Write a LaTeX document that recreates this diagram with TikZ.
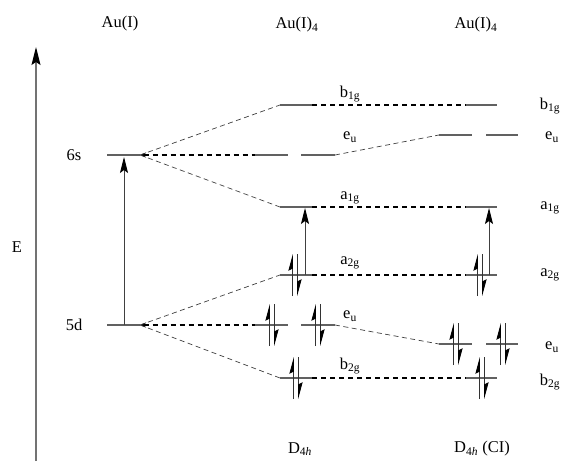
\documentclass[tikz,border=0pt]{standalone}
\usepackage{fontspec}
\setmainfont{Liberation Serif}
\usetikzlibrary{arrows.meta}
\begin{document}
\begin{tikzpicture}[x=1pt,y=-1pt,
  every node/.style={font=\fontsize{16.5}{20}\selectfont, inner sep=0pt},
  level/.style={draw=black!62, line width=1.6pt},
  corr/.style={draw=black, line width=1.7pt, dash pattern=on 5pt off 4pt},
  link/.style={draw=black!75, line width=0.7pt, dash pattern=on 5pt off 3.5pt},
  excite/.style={draw=black!75, line width=0.9pt, -{Stealth[length=16pt,width=8pt,inset=3pt,color=black]}},
  elec/.style={draw=black!80, line width=0.9pt, -{Stealth[harpoon,length=15pt,width=8pt,inset=2pt,color=black]}},
  pair/.pic={
    \draw[elec] (-2.6,21) -- (-2.6,-21);
    \draw[elec] (2.6,-21) -- (2.6,21);
  }]
\useasboundingbox (0,0) rectangle (565,461);

% energy axis
\coordinate (ebot) at (36,461);
\coordinate (etop) at (36,47);
\draw[draw=black!55, line width=1.3pt, -{Stealth[length=18pt,width=9pt,inset=3pt,color=black]}] (ebot) -- (etop);
\node (E) at (17,247) {E};

% column headings
\node (hA) at (120,24) {Au(I)};
\node (hB) at (297,25) {Au(I)\textsubscript{4}};
\node (hC) at (476,25) {Au(I)\textsubscript{4}};
\node (sB) at (300,449) {D\textsubscript{4\textit{h}}};
\node (sC) at (482,449) {D\textsubscript{4\textit{h}} (CI)};

% atomic levels
\coordinate (s6L) at (107,155); \coordinate (f6) at (140,155);
\coordinate (d5L) at (107,325); \coordinate (f5) at (140,325);
\draw[level] (s6L) -- (f6);
\draw[level] (d5L) -- (f5);
\node (l6s) at (74,155) {6s};
\node (l5d) at (74,325) {5d};
\coordinate (x5) at (124,325); \coordinate (x6) at (124,157);
\draw[excite] (x5) -- (x6);

% D4h levels
\coordinate (mb1L) at (280,105); \coordinate (mb1R) at (312,105);
\coordinate (meaL) at (255,155); \coordinate (meaM) at (288,155);
\coordinate (meaN) at (301,155); \coordinate (meaR) at (335,155);
\coordinate (ma1L) at (280,207); \coordinate (ma1R) at (312,207);
\coordinate (ma2L) at (280,275); \coordinate (ma2R) at (312,275);
\coordinate (mebL) at (255,325); \coordinate (mebM) at (288,325);
\coordinate (mebN) at (301,325); \coordinate (mebR) at (335,325);
\coordinate (mb2L) at (280,378); \coordinate (mb2R) at (312,378);
\foreach \a/\b in {mb1L/mb1R, meaL/meaM, meaN/meaR, ma1L/ma1R, ma2L/ma2R,
                   mebL/mebM, mebN/mebR, mb2L/mb2R}
  \draw[level] (\a) -- (\b);

% D4h (CI) levels
\coordinate (rb1L) at (466,105); \coordinate (rb1R) at (497,105);
\coordinate (reaL) at (439,135); \coordinate (reaM) at (472,135);
\coordinate (reaN) at (486,135); \coordinate (reaR) at (518,135);
\coordinate (ra1L) at (466,207); \coordinate (ra1R) at (497,207);
\coordinate (ra2L) at (466,275); \coordinate (ra2R) at (497,275);
\coordinate (rebL) at (439,344); \coordinate (rebM) at (472,344);
\coordinate (rebN) at (486,344); \coordinate (rebR) at (518,344);
\coordinate (rb2L) at (466,378); \coordinate (rb2R) at (497,378);
\foreach \a/\b in {rb1L/rb1R, reaL/reaM, reaN/reaR, ra1L/ra1R, ra2L/ra2R,
                   rebL/rebM, rebN/rebR, rb2L/rb2R}
  \draw[level] (\a) -- (\b);

% thick dashed correlation lines
\draw[corr, {Stealth[length=6pt,width=5pt]}-] (f6) -- (meaL);
\draw[corr, {Stealth[length=6pt,width=5pt]}-] (f5) -- (mebL);
\draw[corr] (mb1R) -- (rb1L);
\draw[corr] (ma1R) -- (ra1L);
\draw[corr] (ma2R) -- (ra2L);
\draw[corr] (mb2R) -- (rb2L);

% thin dashed splitting lines
\draw[link] (f6) -- (mb1L);
\draw[link] (f6) -- (ma1L);
\draw[link] (f5) -- (ma2L);
\draw[link] (f5) -- (mb2L);
\draw[link] (meaR) -- (reaL);
\draw[link] (mebR) -- (rebL);

% labels, D4h column
\node (tb1) at (350,94) {b\textsubscript{1g}};
\node (tea) at (350,137) {e\textsubscript{u}};
\node (ta1) at (350,198) {a\textsubscript{1g}};
\node (ta2) at (350,263) {a\textsubscript{2g}};
\node (teb) at (350,316) {e\textsubscript{u}};
\node (tb2) at (350,366) {b\textsubscript{2g}};
% labels, D4h (CI) column
\node (ub1) at (550,106) {b\textsubscript{1g}};
\node (uea) at (552,137) {e\textsubscript{u}};
\node (ua1) at (550,208) {a\textsubscript{1g}};
\node (ua2) at (550,275) {a\textsubscript{2g}};
\node (ueb) at (552,347) {e\textsubscript{u}};
\node (ub2) at (550,382) {b\textsubscript{2g}};

% a2g -> a1g excitations
\coordinate (mx1) at (305,275); \coordinate (mx2) at (305,208);
\coordinate (rx1) at (489,275); \coordinate (rx2) at (489,208);
\draw[excite] (mx1) -- (mx2);
\draw[excite] (rx1) -- (rx2);

% electron pairs
\pic (pma2) at (295,275) {pair};
\pic (pme1) at (272,325) {pair};
\pic (pme2) at (318,325) {pair};
\pic (pmb2) at (296,378) {pair};
\pic (pra2) at (480,275) {pair};
\pic (pre1) at (456,344) {pair};
\pic (pre2) at (503,344) {pair};
\pic (prb2) at (482,378) {pair};
\end{tikzpicture}
\end{document}
